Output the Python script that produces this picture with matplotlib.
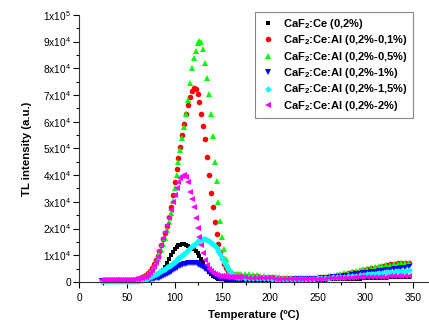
import matplotlib
matplotlib.use("Agg")
import matplotlib.pyplot as plt
from matplotlib.ticker import FixedLocator, MultipleLocator

plt.rcParams['font.family'] = ['Liberation Sans', 'DejaVu Sans']
plt.rcParams['mathtext.fontset'] = 'custom'
plt.rcParams['mathtext.rm'] = 'Liberation Sans'
plt.rcParams['mathtext.bf'] = 'Liberation Sans:bold'

# Temperature grid (°C)
temp_a = [24, 26, 28, 30, 32, 34, 36, 38, 40, 42, 44, 46, 48, 50, 52, 54, 56,
          58, 60, 62, 64, 66, 68, 70, 72, 74, 76, 78, 80, 82, 84, 86, 88, 90,
          92, 94, 96, 98, 100, 102, 104, 106, 108, 110, 112, 114, 116, 118, 120,
          122, 124, 126, 128, 130, 132, 134, 136, 138, 140, 142, 144, 146, 148,
          150, 152, 154, 156, 158, 160, 162, 164, 166, 168, 170]
temp_b = [174, 178, 182, 186, 190, 194, 198, 202, 206, 210,
          214, 218, 222, 226, 230, 234, 238, 242, 246, 250,
          254, 258, 262, 266, 270, 274, 278, 282, 286, 290,
          294, 298, 302, 306, 310, 314, 318, 322, 326, 330,
          334, 338, 342, 346]
temperature = temp_a + temp_b

# TL intensity (x10^3 a.u.)
ce_02 = [0.5, 0.5, 0.5, 0.5, 0.5, 0.5, 0.5, 0.5, 0.5, 0.5, 0.55, 0.55, 0.6, 0.6, 0.65, 0.7, 0.75,
         0.8, 0.85, 0.9, 0.95, 1.0, 1.1, 1.2, 1.3, 1.5, 1.7, 1.9, 2.2, 2.6, 3.1, 3.8, 4.6, 5.7,
         7.0, 8.5, 10.0, 11.4, 12.5, 13.2, 13.7, 14.0, 14.2, 14.1, 13.9, 13.6, 13.2, 12.8, 12.3,
         11.7, 10.9, 9.9, 8.7, 7.4, 6.1, 4.9, 3.8, 2.9, 2.3, 1.8, 1.5, 1.3, 1.1,
         1.0, 0.95, 0.9, 0.9, 0.85, 0.85, 0.8, 0.8, 0.8, 0.8, 0.8,
         0.8, 0.8, 0.8, 0.8, 0.8, 0.8, 0.8, 0.8, 0.8, 0.8,
         0.8, 0.8, 0.8, 0.8, 0.8, 0.8, 0.8, 0.8, 0.85, 0.85,
         0.9, 0.9, 0.95, 1.0, 1.0, 1.05, 1.1, 1.15, 1.2, 1.25,
         1.3, 1.35, 1.4, 1.45, 1.5, 1.55, 1.6, 1.65, 1.7, 1.75,
         1.8, 1.85, 1.9, 1.9]
al_01 = [0.6, 0.6, 0.6, 0.6, 0.6, 0.6, 0.6, 0.6, 0.6, 0.6, 0.65, 0.65, 0.7, 0.7, 0.75, 0.8, 0.85,
         0.9, 1.0, 1.2, 1.5, 1.8, 2.2, 2.6, 3.3, 4.2, 5.3, 6.6, 8.1, 9.8, 11.7, 13.8, 16.0, 18.4,
         21.0, 24.2, 28.0, 32.6, 37.6, 42.3, 46.4, 50.7, 54.9, 59.0, 62.8, 66.3, 69.3, 71.4, 72.5,
         72.3, 70.3, 67.5, 63.0, 58.3, 53.4, 46.9, 40.0, 33.4, 27.9, 22.4, 18.0, 14.4, 11.4,
         8.8, 6.7, 5.1, 4.0, 3.3, 2.9, 2.7, 2.6, 2.5, 2.5, 2.4,
         2.4, 2.3, 2.2, 2.1, 2.0, 1.9, 1.8, 1.7, 1.6, 1.55,
         1.5, 1.45, 1.4, 1.4, 1.4, 1.4, 1.45, 1.5, 1.55, 1.65,
         1.8, 1.95, 2.1, 2.3, 2.5, 2.75, 3.0, 3.3, 3.6, 3.9,
         4.2, 4.5, 4.8, 5.1, 5.4, 5.7, 6.0, 6.3, 6.6, 6.9,
         7.1, 7.2, 7.2, 7.1]
al_05 = [0.6, 0.6, 0.6, 0.6, 0.6, 0.6, 0.6, 0.6, 0.6, 0.6, 0.65, 0.65, 0.7, 0.7, 0.75, 0.8, 0.85,
         0.85, 0.95, 1.1, 1.3, 1.6, 2.0, 2.4, 3.0, 3.7, 4.6, 5.7, 7.0, 8.5, 10.2, 12.1, 14.2, 16.6,
         19.3, 22.4, 26.0, 30.2, 35.0, 40.0, 44.8, 49.4, 53.8, 58.2, 63.0, 68.0, 74.6, 80.0, 84.0,
         86.6, 89.4, 90.4, 89.8, 87.2, 82.0, 76.2, 70.3, 62.8, 54.6, 45.0, 37.8, 30.0, 22.8,
         17.0, 12.2, 8.5, 6.0, 4.5, 3.6, 3.1, 2.9, 2.8, 2.8, 2.8,
         2.8, 2.8, 2.7, 2.6, 2.4, 2.2, 2.0, 1.9, 1.8, 1.7,
         1.6, 1.5, 1.45, 1.4, 1.4, 1.4, 1.45, 1.5, 1.6, 1.7,
         1.85, 2.0, 2.2, 2.4, 2.65, 2.9, 3.2, 3.5, 3.8, 4.1,
         4.4, 4.7, 5.0, 5.3, 5.6, 5.9, 6.1, 6.3, 6.5, 6.7,
         6.9, 7.0, 7.1, 7.1]
al_1 = [0.5, 0.5, 0.5, 0.5, 0.5, 0.5, 0.5, 0.5, 0.5, 0.5, 0.5, 0.5, 0.5, 0.5, 0.5, 0.5, 0.5,
        0.5, 0.5, 0.5, 0.55, 0.6, 0.65, 0.7, 0.8, 0.9, 1.0, 1.2, 1.4, 1.6, 1.6, 1.9, 2.2, 2.5,
        2.9, 3.4, 3.9, 4.4, 4.9, 5.4, 5.8, 6.1, 6.5, 6.7, 6.9, 7.0, 7.1, 7.1, 7.1,
        7.0, 6.8, 6.5, 6.1, 5.6, 5.0, 4.4, 3.8, 3.2, 2.6, 2.1, 1.7, 1.4, 1.2,
        1.05, 1.0, 0.95, 0.9, 0.9, 0.9, 0.9, 0.9, 0.9, 0.9, 0.9,
        0.9, 0.9, 0.9, 0.9, 0.9, 0.9, 0.9, 0.9, 0.9, 0.9,
        0.9, 0.9, 0.9, 0.95, 1.0, 1.05, 1.1, 1.15, 1.2, 1.3,
        1.4, 1.5, 1.6, 1.75, 1.9, 2.05, 2.2, 2.4, 2.6, 2.8,
        3.0, 3.2, 3.4, 3.6, 3.8, 4.0, 4.2, 4.4, 4.6, 4.8,
        5.0, 5.2, 5.4, 5.6]
al_15 = [0.5, 0.5, 0.5, 0.5, 0.5, 0.5, 0.5, 0.5, 0.5, 0.5, 0.5, 0.5, 0.5, 0.5, 0.5, 0.5, 0.5,
         0.5, 0.55, 0.6, 0.7, 0.8, 1.0, 1.2, 1.5, 1.8, 2.1, 2.5, 2.9, 3.3, 3.7, 4.1, 4.5, 5.0,
         5.5, 6.0, 6.5, 7.0, 7.6, 8.2, 8.8, 9.4, 10.0, 10.6, 11.3, 12.0, 12.7, 13.4, 14.0,
         14.6, 15.2, 15.7, 16.0, 16.2, 16.1, 15.8, 15.3, 14.7, 14.2, 13.5, 12.6, 11.6, 10.3,
         9.0, 7.6, 6.2, 4.9, 3.7, 2.8, 2.2, 1.9, 1.8, 1.7, 1.7,
         1.6, 1.6, 1.55, 1.5, 1.45, 1.4, 1.35, 1.3, 1.25, 1.2,
         1.2, 1.15, 1.15, 1.15, 1.15, 1.2, 1.2, 1.25, 1.3, 1.35,
         1.4, 1.5, 1.6, 1.7, 1.8, 1.9, 2.0, 2.1, 2.25, 2.4,
         2.55, 2.7, 2.85, 3.0, 3.15, 3.3, 3.45, 3.6, 3.75, 3.9,
         4.0, 4.1, 4.2, 4.3]
al_2 = [0.6, 0.6, 0.6, 0.6, 0.6, 0.6, 0.6, 0.6, 0.6, 0.65, 0.65, 0.7, 0.7, 0.75, 0.8, 0.85, 0.9,
        1.0, 1.1, 1.2, 1.4, 1.6, 1.8, 1.8, 2.5, 3.2, 4.4, 5.8, 7.4, 9.3, 11.5, 13.9, 16.3, 18.6,
        21.2, 24.0, 26.8, 29.8, 32.6, 35.2, 37.4, 38.9, 39.8, 40.1, 39.4, 37.4, 33.8, 31.0, 28.2,
        24.0, 20.2, 16.8, 14.0, 11.0, 8.3, 6.3, 4.9, 4.0, 3.4, 2.9, 2.6, 2.4, 2.3,
        2.2, 2.1, 2.0, 2.0, 1.9, 1.9, 1.8, 1.8, 1.8, 1.7, 1.7,
        1.7, 1.65, 1.6, 1.55, 1.5, 1.45, 1.4, 1.35, 1.3, 1.3,
        1.25, 1.25, 1.2, 1.2, 1.2, 1.2, 1.2, 1.2, 1.25, 1.25,
        1.3, 1.3, 1.35, 1.4, 1.45, 1.5, 1.55, 1.6, 1.65, 1.7,
        1.75, 1.8, 1.85, 1.9, 1.95, 2.0, 2.0, 2.05, 2.1, 2.1,
        2.15, 2.2, 2.2, 2.2]

series_labels = [r"CaF$_\mathbf{2}$:Ce (0,2%)",
                 r"CaF$_\mathbf{2}$:Ce:Al (0,2%-0,1%)",
                 r"CaF$_\mathbf{2}$:Ce:Al (0,2%-0,5%)",
                 r"CaF$_\mathbf{2}$:Ce:Al (0,2%-1%)",
                 r"CaF$_\mathbf{2}$:Ce:Al (0,2%-1,5%)",
                 r"CaF$_\mathbf{2}$:Ce:Al (0,2%-2%)"]
series_values = [ce_02, al_01, al_05, al_1, al_15, al_2]
colors = ['#000000', '#ff0000', '#00ff00', '#0000ff', '#00ffff', '#ff00ff']
markers = ['s', 'o', '^', 'v', 'D', '<']
msizes = [3.3, 4.0, 4.2, 4.2, 3.4, 4.2]

ytick_vals = [0, 10000, 20000, 30000, 40000, 50000, 60000, 70000, 80000, 90000, 100000]
ytick_labels = ['0', '1x10$^4$', '2x10$^4$', '3x10$^4$', '4x10$^4$', '5x10$^4$',
                '6x10$^4$', '7x10$^4$', '8x10$^4$', '9x10$^4$', '1x10$^5$']
xtick_vals = [0, 50, 100, 150, 200, 250, 300, 350]

fig = plt.figure(figsize=(4.29, 3.23), dpi=100)
ax = fig.add_axes([0.185, 0.127, 0.813, 0.827])

for vals, lab, c, m, s in zip(series_values, series_labels, colors, markers, msizes):
    ax.plot(temperature, [v * 1000 for v in vals], linestyle='none', marker=m,
            markersize=s, color=c, markeredgewidth=0, label=lab, clip_on=False)

ax.set_xlim(0, 366)
ax.set_ylim(0, 100000)
ax.yaxis.set_major_locator(FixedLocator(ytick_vals))
ax.set_yticklabels(ytick_labels)
ax.xaxis.set_major_locator(FixedLocator(xtick_vals))
ax.xaxis.set_minor_locator(MultipleLocator(25))
ax.yaxis.set_minor_locator(MultipleLocator(5000))
ax.tick_params(which='major', direction='out', length=4, width=0.8, labelsize=7.3, pad=2)
ax.tick_params(axis='x', which='major', pad=4)
ax.tick_params(which='minor', direction='out', length=2.2, width=0.8)
for side in ['top', 'right']:
    ax.spines[side].set_visible(False)
for side in ['left', 'bottom']:
    ax.spines[side].set_linewidth(0.8)
    ax.spines[side].set_color('#333333')

ax.set_xlabel('Temperature (ºC)', fontsize=8.2, fontweight='bold', labelpad=5)
ax.set_ylabel('TL intensity (a.u.)', fontsize=8.2, fontweight='bold', labelpad=8)

leg = ax.legend(loc='upper left', bbox_to_anchor=(0.505, 1.012), frameon=True,
                fancybox=False, edgecolor='#888888', framealpha=1,
                prop={'weight': 'bold', 'size': 8.0}, handletextpad=0.7,
                labelspacing=0.22, borderpad=0.45, handlelength=1.3, markerscale=1.0,
                borderaxespad=0)
leg.get_frame().set_linewidth(0.8)

fig.savefig('out.png', dpi=100)
